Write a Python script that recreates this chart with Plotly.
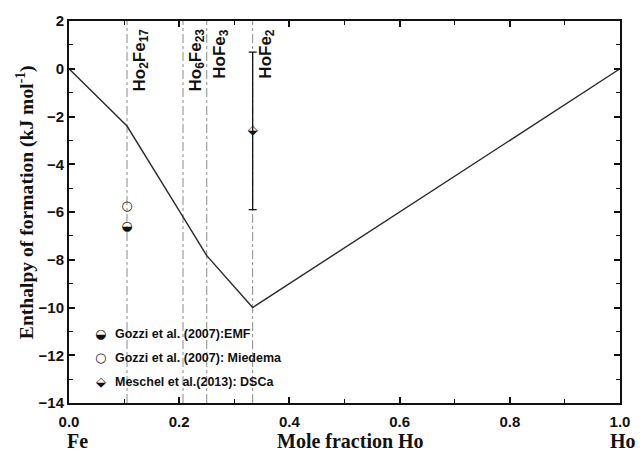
import plotly.graph_objects as go

# Calculated enthalpy of formation along the Fe-Ho system
hull_x = [0.0, 2 / 19, 6 / 29, 0.25, 1 / 3, 1.0]
hull_y = [0.0, -2.4, -6.2, -7.83, -10.0, 0.0]

# Compounds (vertical reference lines)
compound_x = [2 / 19, 6 / 29, 0.25, 1 / 3]
compound_labels = ["Ho<sub>2</sub>Fe<sub>17</sub>", "Ho<sub>6</sub>Fe<sub>23</sub>",
                   "HoFe<sub>3</sub>", "HoFe<sub>2</sub>"]

# Literature values
emf_x, emf_y = [2 / 19], [-6.6]
miedema_x, miedema_y = [2 / 19], [-5.8]
dsc_x, dsc_y, dsc_err = [1 / 3], [-2.6], [3.3]

legend_labels = ["Gozzi et al. (2007):EMF", "Gozzi et al. (2007): Miedema",
                 "Meschel et al.(2013): DSCa"]

INK = "#111111"
SERIF = "Liberation Serif"
SANS = "Liberation Sans"

fig = go.Figure()

for cx in compound_x:
    fig.add_shape(type="line", x0=cx, x1=cx, y0=-14, y1=2, xref="x", yref="y",
                  line=dict(color="#8a8a8a", width=1, dash="dashdot"), layer="below")

fig.add_trace(go.Scatter(x=hull_x, y=hull_y, mode="lines",
                         line=dict(color="#2a2a2a", width=1.4), showlegend=False))

# DSC point with error bar
fig.add_trace(go.Scatter(x=dsc_x, y=dsc_y, mode="markers",
                         marker=dict(size=1, color="rgba(0,0,0,0)"),
                         error_y=dict(type="data", array=dsc_err, color=INK,
                                      thickness=1.3, width=4),
                         showlegend=False))

glyph_font = dict(family="DejaVu Sans", size=13, color=INK)
fig.add_trace(go.Scatter(x=dsc_x, y=dsc_y, mode="text", text=["⬙"],
                         textfont=glyph_font, showlegend=False))
fig.add_trace(go.Scatter(x=emf_x, y=emf_y, mode="text", text=["◒"],
                         textfont=glyph_font, showlegend=False))
fig.add_trace(go.Scatter(x=miedema_x, y=miedema_y, mode="text", text=["○"],
                         textfont=glyph_font, showlegend=False))

# Compound labels
for cx, lab in zip(compound_x, compound_labels):
    fig.add_annotation(x=cx, y=1.75, xref="x", yref="y", text=lab, showarrow=False,
                       textangle=-90, xanchor="left", yanchor="top", xshift=1,
                       font=dict(family=SANS, size=17, color=INK, weight="bold"))

# Legend block
legend_glyphs = ["◒", "○", "⬙"]
for i, (g, lab) in enumerate(zip(legend_glyphs, legend_labels)):
    yy = -11.1 - 1.0 * i
    fig.add_annotation(x=0.058, y=yy, xref="x", yref="y", text=g, showarrow=False,
                       xanchor="center", yanchor="middle", font=glyph_font)
    fig.add_annotation(x=0.08, y=yy, xref="x", yref="y", text=lab, showarrow=False,
                       xanchor="left", yanchor="middle",
                       font=dict(family=SANS, size=12.5, color=INK, weight="bold"))

# Axis titles and end-member labels
title_font = dict(family=SERIF, size=20, color=INK, weight="bold")
fig.add_annotation(x=0.51, y=0, xref="paper", yref="paper", text="Mole fraction Ho",
                   showarrow=False, xanchor="center", yanchor="middle", yshift=-38,
                   font=title_font)
for xx, lab in [(0.016, "Fe"), (1.006, "Ho")]:
    fig.add_annotation(x=xx, y=0, xref="paper", yref="paper", text=lab, showarrow=False,
                       xanchor="center", yanchor="middle", yshift=-38, font=title_font)
fig.add_annotation(x=-0.079, y=0.527, xref="paper", yref="paper",
                   text="Enthalpy of formation (kJ mol<sup>-1</sup>)", showarrow=False,
                   textangle=-90, xanchor="center", yanchor="middle",
                   font=dict(family=SERIF, size=19.6, color=INK, weight="bold"))

axis_common = dict(showline=True, linecolor=INK, linewidth=2, mirror="ticks",
                   ticks="inside", ticklen=6, tickwidth=1.6, tickcolor=INK,
                   showgrid=False, zeroline=False,
                   tickfont=dict(family=SANS, size=15, color=INK, weight="bold"))

fig.update_xaxes(range=[0, 1], dtick=0.2, tickformat=".1f", ticklabelstandoff=4,
                 minor=dict(dtick=0.1, ticks="inside", ticklen=4, tickwidth=1.4,
                            tickcolor=INK),
                 **axis_common)
fig.update_yaxes(range=[-14, 2], dtick=2,
                 minor=dict(dtick=1, ticks="inside", ticklen=4, tickwidth=1.4,
                            tickcolor=INK),
                 **axis_common)

fig.update_layout(width=642, height=453, margin=dict(l=69, r=14, t=17, b=50),
                  plot_bgcolor="white", paper_bgcolor="white", showlegend=False)

fig.write_html("out.html")
